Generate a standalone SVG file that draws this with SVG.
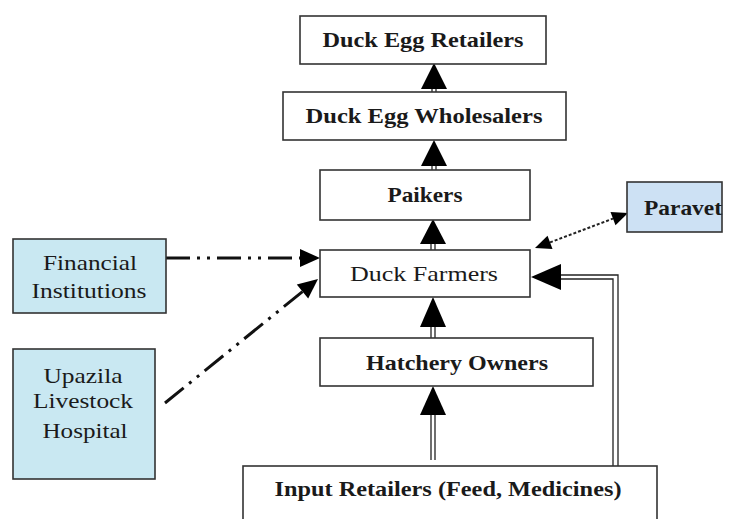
<svg xmlns="http://www.w3.org/2000/svg" width="734" height="519" viewBox="0 0 734 519">
<style>
.box{fill:#fff;stroke:#333;stroke-width:1.6}
.blue{fill:#c9e8f2;stroke:#333;stroke-width:1.6}
.blue2{fill:#cde1f4;stroke:#333;stroke-width:1.6}
text{font-family:"Liberation Serif","Times New Roman",serif;font-size:21px;fill:#1a1a1a;text-anchor:middle}
.b{font-weight:bold}
.dl{stroke:#222;stroke-width:1.3;fill:none}
.head{fill:#000}
.dd{stroke:#111;stroke-width:3;fill:none;stroke-dasharray:24 7 3 7 3 7}
.dot{stroke:#222;stroke-width:2;fill:none;stroke-dasharray:3 2}
</style>
<rect width="734" height="519" fill="#fff"/>
<g id="connectors">
  <path class="dl" d="M432 88V92M436 88V92"/>
  <polygon class="head" points="434,63 421,89 447,89"/>
  <path class="dl" d="M432 165V170M436 165V170"/>
  <polygon class="head" points="434,140 421,166 447,166"/>
  <path class="dl" d="M431 243V250M435 243V250"/>
  <polygon class="head" points="433,219 420,244 446,244"/>
  <path class="dl" d="M431 326V338M435 326V338"/>
  <polygon class="head" points="433,297 420,327 446,327"/>
  <path class="dl" d="M431 414V460M435 414V460"/>
  <polygon class="head" points="433,386 420,415 446,415"/>
  <path class="dl" d="M618 466V275H559M613 466V279H559"/>
  <polygon class="head" points="531,277 561,264 561,290"/>
  <path class="dd" d="M166 258H300"/>
  <polygon class="head" points="320,258 300,249 300,267"/>
  <path class="dd" d="M165 403L302.5 291.6"/>
  <polygon class="head" points="318,279 308.2,298.6 296.8,284.6"/>
  <path class="dot" d="M550 242.4L613 218.6"/>
  <polygon class="head" points="535,248 552.5,249 547.5,235.8"/>
  <polygon class="head" points="628,213 615.5,225.2 610.5,212"/>
</g>
<g id="retailers">
  <rect class="box" x="300" y="16" width="246" height="48"/>
  <text class="b" x="423" y="47" textLength="201" lengthAdjust="spacingAndGlyphs">Duck Egg Retailers</text>
</g>
<g id="wholesalers">
  <rect class="box" x="283" y="92" width="283" height="48"/>
  <text class="b" x="424" y="123" textLength="237" lengthAdjust="spacingAndGlyphs">Duck Egg Wholesalers</text>
</g>
<g id="paikers">
  <rect class="box" x="320" y="170" width="210" height="50"/>
  <text class="b" x="425" y="202" textLength="75" lengthAdjust="spacingAndGlyphs">Paikers</text>
</g>
<g id="duck-farmers">
  <rect class="box" x="320" y="250" width="210" height="47"/>
  <text x="424" y="281" textLength="148" lengthAdjust="spacingAndGlyphs">Duck Farmers</text>
</g>
<g id="hatchery">
  <rect class="box" x="320" y="338" width="273" height="48"/>
  <text class="b" x="457" y="370" textLength="182" lengthAdjust="spacingAndGlyphs">Hatchery Owners</text>
</g>
<g id="input-retailers">
  <rect class="box" x="243" y="466" width="414" height="70"/>
  <text class="b" x="448" y="496" textLength="347" lengthAdjust="spacingAndGlyphs">Input Retailers (Feed, Medicines)</text>
</g>
<g id="financial">
  <rect class="blue" x="13" y="239" width="153" height="74"/>
  <text x="90" y="270" textLength="94" lengthAdjust="spacingAndGlyphs">Financial</text>
  <text x="89" y="298" textLength="115" lengthAdjust="spacingAndGlyphs">Institutions</text>
</g>
<g id="upazila">
  <rect class="blue" x="13" y="349" width="142" height="130"/>
  <text x="83" y="383" textLength="79" lengthAdjust="spacingAndGlyphs">Upazila</text>
  <text x="83" y="408" textLength="100" lengthAdjust="spacingAndGlyphs">Livestock</text>
  <text x="85" y="438" textLength="85" lengthAdjust="spacingAndGlyphs">Hospital</text>
</g>
<g id="paravet">
  <rect class="blue2" x="627" y="182" width="95" height="50"/>
  <text class="b" x="683" y="215" textLength="78" lengthAdjust="spacingAndGlyphs">Paravet</text>
</g>
</svg>
